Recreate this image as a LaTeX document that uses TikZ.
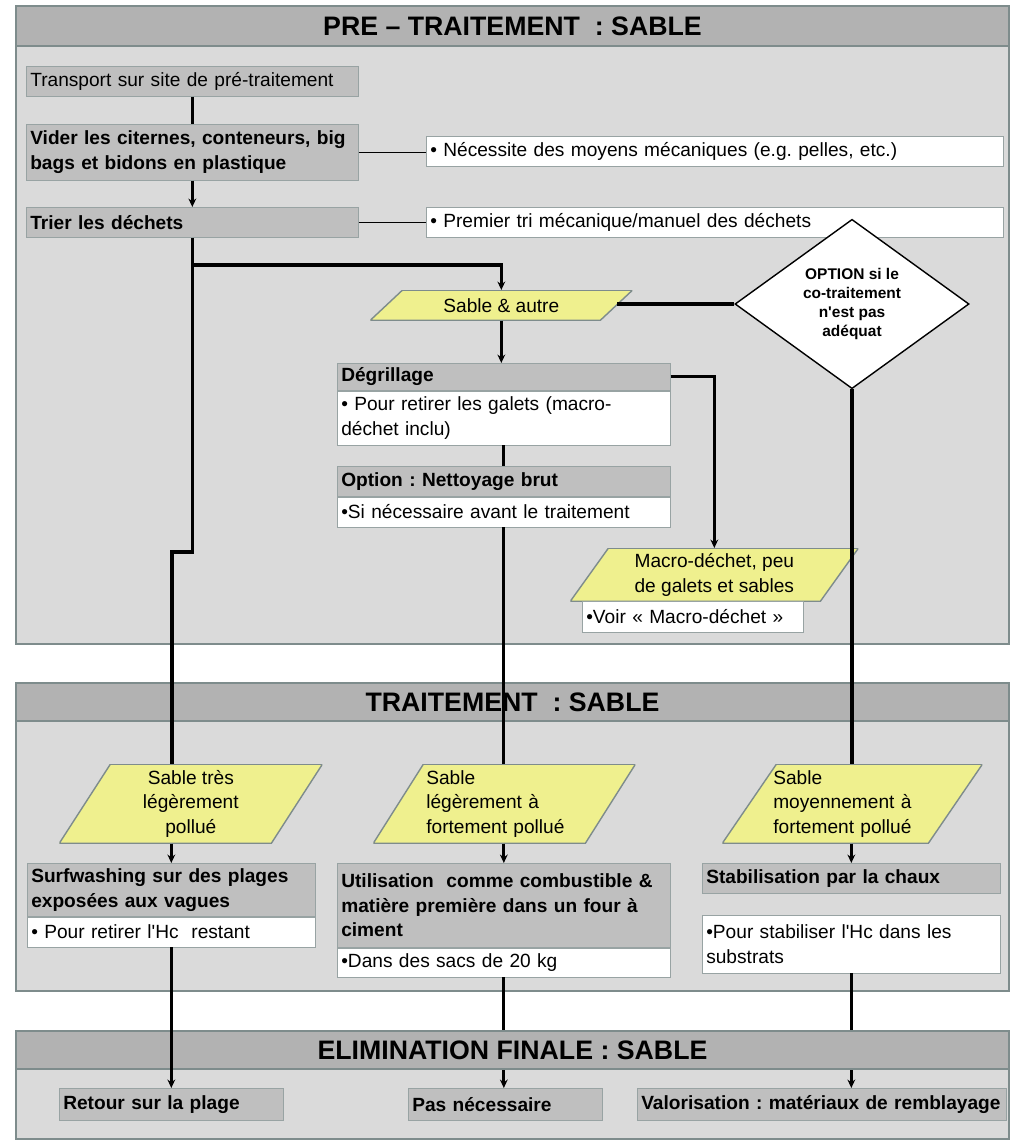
\documentclass[tikz,border=0pt]{standalone}
\usepackage{fontspec}
\setmainfont{Liberation Sans}
\usepackage{tikz}
\usetikzlibrary{shapes,arrows.meta,positioning,calc}

\definecolor{bandgray}{HTML}{B2B2B2}
\definecolor{panelgray}{HTML}{DADADA}
\definecolor{boxgray}{HTML}{BFBFBF}
\definecolor{edgegray}{HTML}{7E8C8C}
\definecolor{sandyellow}{HTML}{EFF08E}

\newcommand{\boxfont}{\fontsize{13.6}{17.5}\selectfont}
\frenchspacing

\begin{document}
\begin{tikzpicture}[x=0.025cm, y=-0.025cm, >={Stealth[length=6pt, width=5.5pt]}]

% Define panel, box and connector styles
\tikzstyle{panel} = [draw=edgegray, line width=1.2pt, fill=panelgray,
    rectangle, anchor=north west, inner sep=0pt, minimum width=24.825cm]
\tikzstyle{band} = [panel, fill=bandgray, font=\fontsize{19}{22}\selectfont\bfseries]
\tikzstyle{graybox} = [draw=edgegray!80, fill=boxgray, rectangle, anchor=north west,
    inner xsep=0.1cm, inner ysep=2pt, align=left, font=\boxfont]
\tikzstyle{whitebox} = [graybox, fill=white]
\tikzstyle{choice} = [diamond, draw=black, line width=1pt, fill=white, inner sep=0pt,
    align=center, font=\fontsize{11}{13.5}\selectfont\bfseries]
\tikzstyle{flow} = [line width=2.2pt, black]
\tikzstyle{link} = [line width=1pt, black]
\tikzset{sandbox/.style={rectangle, inner sep=0pt, align=center, font=\boxfont,
    path picture={\filldraw[fill=sandyellow, draw=edgegray, line width=1pt]
      ([xshift=#1]path picture bounding box.north west)
      -- (path picture bounding box.north east)
      -- ([xshift=-#1]path picture bounding box.south east)
      -- (path picture bounding box.south west) -- cycle;}}}

\useasboundingbox (0,0) rectangle (1019,1141);

% the three stages
\node[panel, minimum height=15.95cm] (prepanel) at (15,5) {};
\node[band, minimum height=1cm] (pretitle) at (15,5) {PRE – TRAITEMENT~~: SABLE};
\node[panel, minimum height=7.7cm] (trtpanel) at (15,682) {};
\node[band, minimum height=0.95cm] (trttitle) at (15,682) {TRAITEMENT~~: SABLE};
\node[panel, minimum height=2.7cm] (elimpanel) at (15,1030) {};

% pre-treatment
\node[graybox, text width=8.1cm, minimum height=0.75cm] (transport) at (26,66)
    {Transport sur site de pré-traitement};
\node[graybox, text width=8.1cm, minimum height=1.4cm, font=\boxfont\bfseries] (vider) at (26,124)
    {Vider les citernes, conteneurs, big\\bags et bidons en plastique};
\node[graybox, text width=8.1cm, minimum height=0.75cm, font=\boxfont\bfseries] (trier) at (26,207)
    {Trier les déchets};
\node[whitebox, text width=14.225cm, minimum height=0.75cm] (moyens) at (426,136)
    {• Nécessite des moyens mécaniques (e.g. pelles, etc.)};
\node[whitebox, text width=14.225cm, minimum height=0.75cm] (tri) at (426,207)
    {• Premier tri mécanique/manuel des déchets};
\node[sandbox=0.8cm, anchor=north west, minimum width=6.55cm, minimum height=0.75cm] (sable) at (370,290)
    {Sable \& autre};
\node[choice, minimum width=5.85cm, minimum height=4.05cm] (option) at (852,304)
    {OPTION si le\\co-traitement\\n\textquotesingle est pas\\adéquat};
\node[graybox, text width=8.125cm, minimum height=0.675cm, font=\boxfont\bfseries] (degrillage) at (337,363)
    {Dégrillage};
\node[whitebox, text width=8.125cm, minimum height=1.35cm, below=0pt of degrillage] (galets)
    {• Pour retirer les galets (macro-\\déchet inclu)};
\node[graybox, text width=8.125cm, minimum height=0.75cm, font=\boxfont\bfseries] (nettoyage) at (337,466)
    {Option : Nettoyage brut};
\node[whitebox, text width=8.125cm, minimum height=0.75cm, below=0pt of nettoyage] (avant)
    {•Si nécessaire avant le traitement};
\node[sandbox=0.95cm, anchor=north west, minimum width=7.2cm, minimum height=1.325cm] (macro) at (570,548)
    {Macro-déchet, peu\\de galets et sables};
\node[whitebox, text width=5.325cm, minimum height=0.775cm] (voir) at (582,601)
    {•Voir « Macro-déchet »};

% treatment
\node[sandbox=1.275cm, anchor=north west, minimum width=6.575cm, minimum height=1.975cm] (tresleger) at (59,764)
    {Sable très\\légèrement\\pollué};
\node[sandbox=1.25cm, anchor=north west, text width=3.9cm, inner xsep=1.325cm,
    minimum height=1.975cm, align=left] (leger) at (373,764)
    {Sable\\légèrement à\\fortement pollué};
\node[sandbox=1.35cm, anchor=north west, text width=3.95cm, inner xsep=1.275cm,
    minimum height=1.975cm, align=left] (moyen) at (722,764)
    {Sable\\moyennement à\\fortement pollué};
\node[graybox, text width=7cm, minimum height=1.325cm, font=\boxfont\bfseries] (surf) at (27,863)
    {Surfwashing sur des plages\\exposées aux vagues};
\node[whitebox, text width=7cm, minimum height=0.75cm, below=0pt of surf] (restant)
    {• Pour retirer l\textquotesingle Hc~ restant};
\node[graybox, text width=8.125cm, minimum height=2.1cm, font=\boxfont\bfseries] (ciment) at (337,863)
    {Utilisation~ comme combustible \&\\matière première dans un four à\\ciment};
\node[whitebox, text width=8.125cm, minimum height=0.725cm, below=0pt of ciment] (sacs)
    {•Dans des sacs de 20 kg};
\node[graybox, text width=7.25cm, minimum height=0.75cm, font=\boxfont\bfseries] (chaux) at (702,863)
    {Stabilisation par la chaux};
\node[whitebox, text width=7.25cm, minimum height=1.45cm, below=0.525cm of chaux] (substrats)
    {•Pour stabiliser l\textquotesingle Hc dans les\\substrats};

% final disposal
\node[graybox, text width=5.4cm, minimum height=0.8cm, font=\boxfont\bfseries] (plage) at (59,1088)
    {Retour sur la plage};
\node[graybox, text width=4.65cm, minimum height=0.8cm, font=\boxfont\bfseries] (inutile) at (408,1088)
    {Pas nécessaire};
\node[graybox, text width=9.025cm, minimum height=0.8cm, font=\boxfont\bfseries] (remblai) at (637,1088)
    {Valorisation : matériaux de remblayage};

% connectors
\coordinate (jog) at (172,552);
\draw[flow] (transport) -- (vider);
\draw[flow, ->] (vider) -- (trier);
\draw[link] (vider.east) -- (vider.east -| moyens.west);
\draw[link] (trier.east) -- (trier.east -| tri.west);
\draw[flow] (trier.south) |- (jog) -- (jog |- tresleger.north);
\draw[flow, ->] (trier.south |- 0,265) -| (sable.north);
\draw[flow, ->] (sable.south) -- (sable.south |- degrillage.north);
\draw[flow] (galets) -- (nettoyage);
\draw[flow] (avant.south) -- (avant.south |- leger.north);
\draw[flow, ->] (degrillage.east) -| (macro.north);
\draw[flow] (option.west) -- ($(option.west -| sable.east)+(-16,0)$);
\draw[flow] (option.south) -- (option.south |- moyen.north);
\draw[flow, ->] (tresleger.south -| surf.north) -- (surf.north);
\draw[flow, ->] (leger.south -| ciment.north) -- (ciment.north);
\draw[flow, ->] (moyen.south -| chaux.north) -- (chaux.north);
\draw[flow, ->] (sacs.south) -- (sacs.south |- inutile.north);
\draw[flow, ->] (substrats.south) -- (substrats.south |- remblai.north);

% last title band covers the middle and right lines
\node[band, minimum height=0.95cm] (elimtitle) at (15,1030) {ELIMINATION FINALE : SABLE};
\draw[flow, ->] (restant.south) -- (restant.south |- plage.north);
\end{tikzpicture}
\end{document}
